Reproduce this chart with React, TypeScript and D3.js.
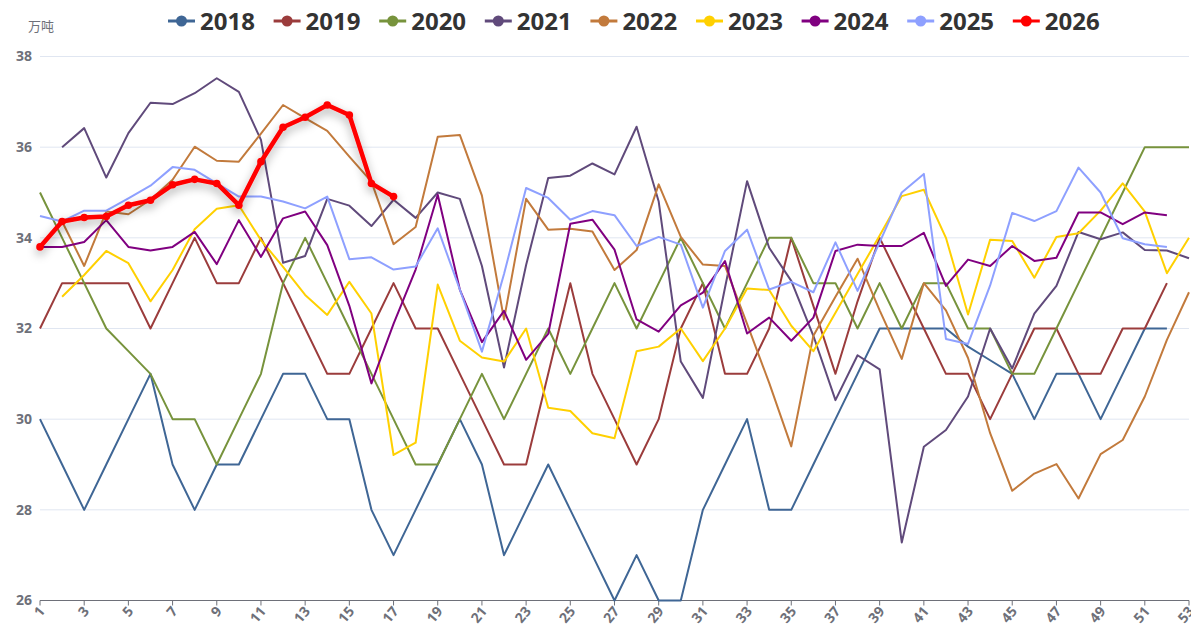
import React from "react";
import * as d3 from "d3";

const years = ["2018", "2019", "2020", "2021", "2022", "2023", "2024", "2025", "2026"];
const colors = ["#3F6695", "#9B3C3C", "#77933C", "#604A7B", "#C27A3C", "#FFD000", "#800080", "#8EA0FF", "#FF0000"];
const startWeek = [1, 1, 1, 2, 2, 2, 1, 1, 1];

const v2018 = [30, 29, 28, 29, 30, 31, 29, 28, 29, 29, 30, 31, 31, 30, 30, 28, 27, 28, 29, 30, 29, 27, 28, 29, 28, 27, 26, 27, 26, 26, 28, 29, 30, 28, 28, 29, 30, 31, 32, 32, 32, 32, 31.6, 31.3, 31, 30, 31, 31, 30, 31, 32, 32];
const v2019 = [32, 33, 33, 33, 33, 32, 33, 34, 33, 33, 34, 33, 32, 31, 31, 32, 33, 32, 32, 31, 30, 29, 29, 31, 33, 31, 30, 29, 30, 32, 33, 31, 31, 32, 34, 32.5, 31, 32.6, 34, 33, 32, 31, 31, 30, 31, 32, 32, 31, 31, 32, 32, 33];
const v2020 = [35, 34, 33, 32, 31.5, 31, 30, 30, 29, 30, 31, 33, 34, 33, 32, 31, 30, 29, 29, 30, 31, 30, 31, 32, 31, 32, 33, 32, 33, 34, 33, 32, 33, 34, 34, 33, 33, 32, 33, 32, 33, 33, 32, 32, 31, 31, 32, 33, 34, 35, 36, 36, 36];
const v2021 = [36.0, 36.42, 35.33, 36.31, 36.98, 36.95, 37.19, 37.52, 37.22, 36.16, 33.45, 33.6, 34.86, 34.71, 34.26, 34.84, 34.44, 35.0, 34.86, 33.38, 31.14, 33.4, 35.32, 35.37, 35.64, 35.4, 36.45, 34.8, 31.27, 30.47, 32.9, 35.25, 33.78, 33.05, 31.84, 30.42, 31.41, 31.1, 27.28, 29.39, 29.76, 30.5, 32.0, 31.12, 32.33, 32.94, 34.13, 33.97, 34.12, 33.73, 33.72, 33.55];
const v2022 = [34.36, 33.38, 34.58, 34.52, 34.84, 35.28, 36.01, 35.7, 35.68, 36.3, 36.93, 36.64, 36.36, 35.79, 35.24, 33.86, 34.24, 36.23, 36.27, 34.93, 32.2, 34.86, 34.18, 34.2, 34.14, 33.29, 33.73, 35.18, 34.02, 33.41, 33.38, 32.1, 30.8, 29.4, 31.84, 32.7, 33.54, 32.4, 31.33, 33.0, 32.4, 31.35, 29.69, 28.42, 28.8, 29.01, 28.25, 29.23, 29.54, 30.5, 31.75, 32.8];
const v2023 = [32.7, 33.18, 33.71, 33.44, 32.6, 33.29, 34.19, 34.64, 34.72, 33.95, 33.36, 32.74, 32.3, 33.03, 32.33, 29.21, 29.48, 32.97, 31.73, 31.36, 31.27, 32.0, 30.25, 30.18, 29.69, 29.58, 31.5, 31.6, 32.0, 31.28, 32.0, 32.88, 32.85, 32.06, 31.5, 32.35, 33.2, 34.05, 34.92, 35.06, 34.0, 32.31, 33.96, 33.93, 33.12, 34.02, 34.1, 34.6, 35.2, 34.58, 33.22, 34.0];
const v2024 = [33.8, 33.8, 33.91, 34.39, 33.8, 33.72, 33.8, 34.13, 33.42, 34.39, 33.58, 34.43, 34.58, 33.84, 32.5, 30.79, 32.1, 33.3, 34.95, 32.86, 31.7, 32.39, 31.31, 31.88, 34.31, 34.4, 33.74, 32.2, 31.93, 32.51, 32.79, 33.49, 31.89, 32.24, 31.73, 32.24, 33.71, 33.85, 33.82, 33.82, 34.11, 32.94, 33.52, 33.38, 33.82, 33.49, 33.56, 34.56, 34.56, 34.3, 34.56, 34.5];
const v2025 = [34.48, 34.36, 34.6, 34.6, 34.87, 35.15, 35.56, 35.5, 35.2, 34.91, 34.91, 34.8, 34.65, 34.91, 33.53, 33.57, 33.3, 33.37, 34.21, 32.86, 31.49, 33.2, 35.1, 34.88, 34.4, 34.59, 34.5, 33.82, 34.02, 33.85, 32.46, 33.71, 34.18, 32.86, 33.03, 32.8, 33.9, 32.83, 33.9, 35.0, 35.41, 31.77, 31.66, 32.95, 34.55, 34.37, 34.59, 35.55, 35.0, 33.99, 33.86, 33.8];
const v2026 = [33.8, 34.36, 34.45, 34.47, 34.72, 34.83, 35.17, 35.29, 35.2, 34.72, 35.68, 36.44, 36.66, 36.93, 36.71, 35.2, 34.91];

const seriesValues = [v2018, v2019, v2020, v2021, v2022, v2023, v2024, v2025, v2026];
const yTicks = [26, 28, 30, 32, 34, 36, 38];
const xTicks = d3.range(1, 54, 2);
const unitLabel = "万吨";

const W = 1191;
const H = 639;
const left = 40;
const right = 1189;
const top = 56.5;
const bottom = 600.5;

export default function App() {
  const x = d3.scaleLinear().domain([1, 53]).range([left, right]);
  const y = d3.scaleLinear().domain([26, 38]).range([bottom, top]);
  const line = d3
    .line<[number, number]>()
    .x((d) => x(d[0]))
    .y((d) => y(d[1]));

  const series = years.map((yr, i) => ({
    year: yr,
    color: colors[i],
    pts: seriesValues[i].map((v, j) => [startWeek[i] + j, v] as [number, number]),
  }));

  const legendStart = 168;
  const legendPitch = 105.6;

  return (
    <svg
      width={W}
      height={H}
      style={{ position: "absolute", left: 0, top: 0, background: "#fff" }}
      fontFamily="'Open Sans', 'Noto Sans', sans-serif"
    >
      <defs>
        <filter id="shadow" x="-20%" y="-50%" width="140%" height="200%">
          <feDropShadow dx="0" dy="4" stdDeviation="5" floodColor="#000" floodOpacity="0.35" />
        </filter>
      </defs>
      <rect x={0} y={0} width={W} height={H} fill="#fff" />
      {yTicks.map((t) => (
        <line key={t} x1={left} x2={right} y1={y(t)} y2={y(t)} stroke="#E0E6F1" strokeWidth={1} />
      ))}
      {yTicks.map((t) => (
        <text
          key={"yl" + t}
          x={32}
          y={y(t)}
          dy="0.35em"
          textAnchor="end"
          fontSize={14}
          fontWeight="bold"
          fill="#6E7079"
        >
          {t}
        </text>
      ))}
      <text
        x={41}
        y={31}
        textAnchor="middle"
        fontSize={13}
        fill="#6E7079"
        fontFamily="'Noto Sans CJK SC', sans-serif"
      >
        {unitLabel}
      </text>
      <line x1={left} x2={right} y1={bottom} y2={bottom} stroke="#6E7079" strokeWidth={1} />
      {xTicks.map((t) => (
        <g key={"xt" + t}>
          <line x1={x(t)} x2={x(t)} y1={bottom} y2={bottom + 5} stroke="#6E7079" strokeWidth={1} />
          <text
            transform={`translate(${x(t) + 2},${bottom + 8}) rotate(-50)`}
            textAnchor="end"
            dy="0.35em"
            fontSize={14}
            fontWeight="bold"
            fill="#6E7079"
          >
            {t}
          </text>
        </g>
      ))}
      {series.slice(0, 8).map((s) => (
        <path
          key={s.year}
          d={line(s.pts) || ""}
          fill="none"
          stroke={s.color}
          strokeWidth={2}
          strokeLinejoin="round"
        />
      ))}
      <g filter="url(#shadow)">
        <path
          d={line(series[8].pts) || ""}
          fill="none"
          stroke={series[8].color}
          strokeWidth={4.5}
          strokeLinejoin="round"
        />
        {series[8].pts.map((p, j) => (
          <circle key={j} cx={x(p[0])} cy={y(p[1])} r={3.8} fill={series[8].color} />
        ))}
      </g>
      {series.map((s, i) => {
        const lx = legendStart + i * legendPitch;
        return (
          <g key={"lg" + s.year}>
            <line x1={lx} x2={lx + 27} y1={21} y2={21} stroke={s.color} strokeWidth={3} />
            <circle cx={lx + 13.5} cy={21} r={5.5} fill={s.color} />
            <text x={lx + 32} y={21} dy="0.36em" fontSize={24} fontWeight="bold" fill="#333">
              {s.year}
            </text>
          </g>
        );
      })}
    </svg>
  );
}
